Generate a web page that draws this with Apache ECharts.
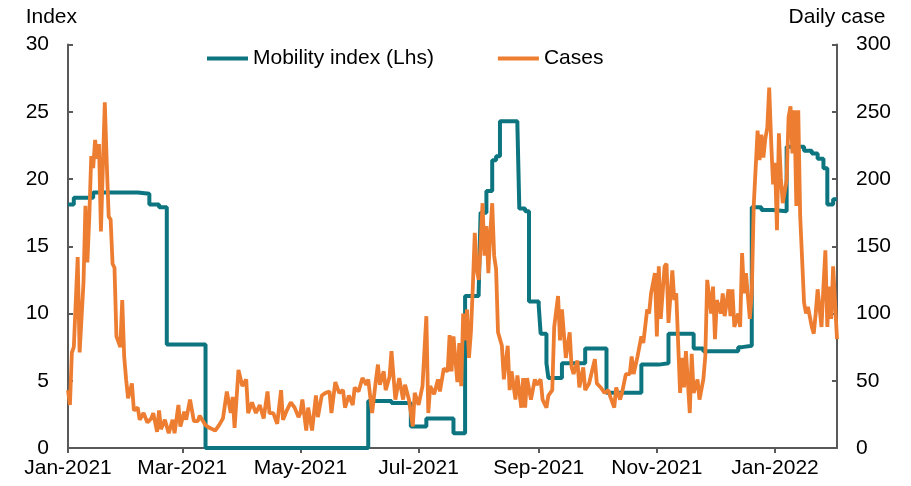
<!DOCTYPE html>
<html>
<head>
<meta charset="utf-8">
<script src="https://cdn.jsdelivr.net/npm/echarts@6/dist/echarts.min.js"></script>
<style>
  html, body { margin: 0; background: #fff; }
  #mobility-chart { width: 911px; height: 486px; }
</style>
</head>
<body>
<div id="mobility-chart"></div>
<script>
// days counted from 2021-01-01
const startDay = Date.UTC(2021, 0, 1)
const endDay = 397 // 2022-02-02
const tickDays = [0, 59, 120, 181, 243, 304, 365]
const monthNames = ['Jan', 'Feb', 'Mar', 'Apr', 'May', 'Jun', 'Jul', 'Aug', 'Sep', 'Oct', 'Nov', 'Dec']

// mobility index, value holds from the listed day on
const mobilityDays = [0, 3, 13, 36, 42, 47, 51, 71, 155, 167, 177, 185, 199, 205, 212, 213, 216, 219, 221, 223,
  232, 233, 236, 238, 243, 244, 247, 248, 255, 267, 278, 296, 305, 310, 323, 328, 346, 348, 353, 358,
  364, 371, 380, 384, 387, 390, 392, 395, 397]
const mobilityValues = [18.1, 18.6, 19.0, 18.9, 18.1, 17.9, 7.7, 0, 3.5, 3.35, 1.6, 2.2, 1.1, 11.3, 11.5, 17.5, 19.1, 21.4, 21.7, 24.3,
  24.0, 17.8, 17.6, 10.9, 10.6, 8.5, 6.3, 5.2, 6.3, 7.4, 4.1, 6.2, 6.3, 8.5, 7.4, 7.2, 7.5, 7.6, 17.9, 17.7,
  17.6, 22.4, 22.1, 21.9, 21.5, 20.8, 18.1, 18.5, 18.5]

// daily cases
const caseDays = [
  0, 1, 2, 3, 5, 6, 7, 8, 9, 10, 11, 12, 13, 14, 15, 16, 17, 19, 20, 21, 22, 23, 24, 25, 27, 28, 29, 30, 31, 33,
  34, 36, 37, 39, 41, 43, 44, 46, 47, 48, 50, 52, 54, 55, 57, 58, 60, 61, 63, 65, 67, 68, 71, 73, 76, 78, 80, 82, 84, 85,
  86, 88, 90, 92, 93, 95, 97, 99, 101, 103, 104, 106, 108, 110, 111, 113, 115, 117, 119, 120, 121, 123, 124, 126, 128, 129, 131, 133, 135, 136,
  138, 140, 142, 143, 145, 147, 148, 150, 152, 154, 155, 157, 159, 160, 161, 163, 164, 166, 167, 169, 171, 173, 174, 176, 178, 179, 181, 183, 185, 186,
  187, 189, 191, 192, 194, 196, 197, 198, 199, 201, 202, 203, 204, 205, 206, 207, 208, 209, 210, 211, 212, 213, 214, 215, 216, 217, 218, 219, 220, 221,
  222, 224, 225, 227, 228, 229, 231, 232, 234, 235, 236, 237, 239, 241, 242, 244, 245, 247, 248, 250, 251, 253, 254, 255, 257, 259, 260, 261, 263, 264,
  266, 267, 269, 271, 272, 273, 275, 277, 279, 280, 282, 283, 285, 286, 288, 290, 291, 292, 294, 296, 297, 299, 300, 301, 303, 304, 305, 306, 308, 309,
  310, 312, 313, 314, 316, 317, 318, 319, 321, 322, 323, 325, 326, 328, 329, 330, 332, 333, 334, 335, 337, 338, 339, 341, 342, 343, 344, 346, 347, 348,
  349, 350, 352, 353, 354, 356, 357, 358, 359, 360, 361, 362, 363, 364, 365, 366, 367, 368, 369, 371, 372, 373, 374, 375, 376, 377, 378, 380, 381, 382,
  384, 385, 386, 387, 389, 390, 391, 392, 393, 394, 395, 397]
const caseValues = [
  43, 32, 71, 75, 142, 71, 72, 123, 180, 138, 172, 217, 208, 229, 215, 226, 161, 257, 212, 172, 170, 137, 134, 83, 75, 110, 68, 51, 37, 48,
  28, 30, 21, 26, 19, 22, 26, 12, 28, 14, 21, 11, 21, 11, 32, 16, 27, 21, 36, 20, 20, 24, 17, 15, 13, 17, 22, 42, 26, 38,
  15, 58, 46, 51, 26, 34, 26, 32, 22, 42, 26, 26, 18, 43, 21, 28, 34, 30, 23, 26, 36, 13, 30, 13, 39, 23, 39, 41, 42, 26,
  49, 41, 43, 30, 39, 32, 45, 42, 52, 47, 51, 26, 51, 62, 47, 57, 43, 53, 72, 36, 52, 36, 47, 36, 16, 41, 32, 46, 98, 26,
  46, 40, 51, 42, 59, 57, 84, 57, 83, 49, 78, 46, 100, 80, 103, 67, 86, 120, 160, 133, 125, 151, 182, 143, 165, 130, 160, 182, 143, 133,
  86, 76, 51, 76, 43, 57, 36, 54, 30, 52, 30, 52, 36, 51, 47, 51, 36, 30, 39, 43, 90, 113, 80, 103, 67, 86, 60, 55, 65, 45,
  60, 43, 48, 60, 66, 48, 45, 41, 43, 38, 30, 45, 36, 41, 55, 55, 68, 55, 68, 83, 78, 103, 100, 115, 130, 83, 135, 96, 135, 137,
  93, 132, 110, 115, 41, 67, 45, 72, 26, 70, 41, 51, 36, 51, 68, 125, 100, 120, 81, 110, 100, 115, 98, 118, 98, 118, 90, 100, 90, 145,
  115, 130, 96, 115, 180, 236, 214, 233, 216, 230, 238, 268, 228, 196, 212, 162, 234, 201, 182, 199, 246, 254, 219, 251, 180, 251, 172, 108, 100, 105,
  90, 85, 100, 118, 90, 120, 147, 90, 120, 96, 135, 81]

const toTime = (day) => startDay + day * 86400000
const fmtMonth = (v) => {
  const d = new Date(v)
  return monthNames[d.getUTCMonth()] + '-' + d.getUTCFullYear()
}

const axisGray = '#595959'
const fontFamily = "'Liberation Sans', Arial, sans-serif"
const tickTimes = tickDays.map(toTime)

const xBase = {
  type: 'value',
  min: toTime(0),
  max: toTime(endDay),
  splitLine: { show: false },
}

const option = {
  animation: false,
  textStyle: { fontFamily: fontFamily },
  grid: { left: 68, right: 74, top: 44.5, bottom: 38 },
  legend: {
    left: 202,
    top: 43,
    icon: 'rect',
    itemWidth: 41,
    itemHeight: 4,
    itemGap: 64,
    textStyle: { fontSize: 21, color: '#000', fontFamily: fontFamily },
    data: ['Mobility index (Lhs)', 'Cases'],
  },
  xAxis: [
    Object.assign({}, xBase, {
      axisLine: { lineStyle: { color: axisGray, width: 2 } },
      axisTick: { customValues: tickTimes, length: 5, lineStyle: { color: axisGray, width: 2 } },
      axisLabel: {
        customValues: tickTimes,
        formatter: fmtMonth,
        fontSize: 21,
        color: '#000',
        margin: 10,
      },
    }),
    // second set of ticks so they cross the axis line
    Object.assign({}, xBase, {
      axisLine: { show: false },
      axisTick: { customValues: tickTimes, inside: true, length: 5, lineStyle: { color: axisGray, width: 2 } },
      axisLabel: { show: false },
    }),
  ],
  yAxis: [
    {
      type: 'value',
      min: 0,
      max: 30,
      interval: 5,
      name: 'Index',
      nameLocation: 'end',
      nameGap: 17,
      nameTextStyle: { fontSize: 21, color: '#000', align: 'right', padding: [0, -9, 0, 0] },
      axisLine: { show: true, lineStyle: { color: axisGray, width: 2 } },
      axisTick: { show: true, inside: true, length: 5, lineStyle: { color: axisGray, width: 2 } },
      axisLabel: { fontSize: 21, color: '#000', margin: 19 },
      splitLine: { show: false },
    },
    {
      type: 'value',
      min: 0,
      max: 300,
      interval: 50,
      name: 'Daily case',
      nameLocation: 'end',
      nameGap: 17,
      nameTextStyle: { fontSize: 21, color: '#000' },
      axisLine: { show: true, lineStyle: { color: axisGray, width: 2 } },
      axisTick: { show: true, inside: true, length: 5, lineStyle: { color: axisGray, width: 2 } },
      axisLabel: { fontSize: 21, color: '#000', margin: 19 },
      splitLine: { show: false },
    },
  ],
  series: [
    {
      name: 'Mobility index (Lhs)',
      type: 'line',
      step: 'end',
      yAxisIndex: 0,
      showSymbol: false,
      color: '#0c7580',
      lineStyle: { width: 4, color: '#0c7580' },
      data: mobilityDays.map((d, i) => [toTime(d), mobilityValues[i]]),
    },
    {
      name: 'Cases',
      type: 'line',
      yAxisIndex: 1,
      showSymbol: false,
      color: '#ed7d31',
      lineStyle: { width: 3.8, color: '#ed7d31' },
      data: caseDays.map((d, i) => [toTime(d), caseValues[i]]),
    },
  ],
}

const chart = echarts.init(document.getElementById('mobility-chart'))
chart.setOption(option)
</script>
</body>
</html>
